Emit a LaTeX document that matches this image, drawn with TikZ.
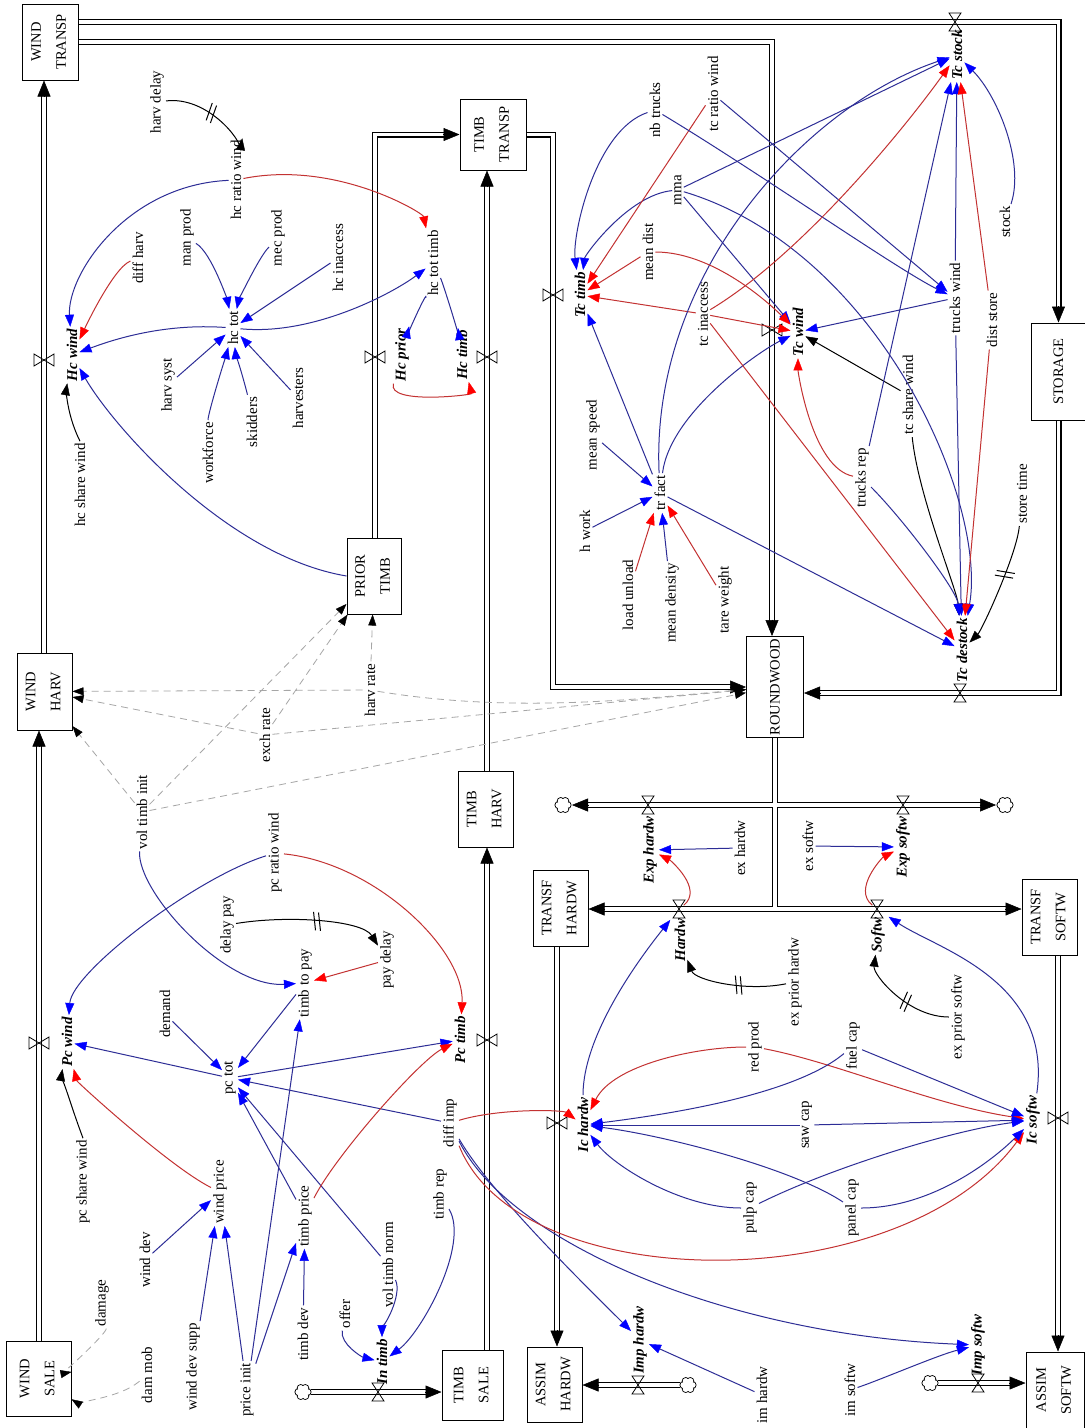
\documentclass[tikz,border=0pt]{standalone}
\usepackage{fontspec}
\setmainfont{Liberation Serif}
\usepackage{graphicx}
\usetikzlibrary{arrows.meta,calc,decorations.markings}
\definecolor{linkblue}{RGB}{45,45,150}
\definecolor{linkred}{RGB}{195,50,50}
\newcommand{\varfont}{\fontsize{15}{17}\selectfont}
\newcommand{\ratefont}{\fontsize{15}{17}\selectfont\bfseries\itshape}
\newcommand{\boxfont}{\fontsize{14.5}{17}\selectfont}
\newcommand{\stk}[2]{\rotatebox{90}{\begin{tabular}{@{}c@{}}#1\\[8pt]#2\end{tabular}}}
% arrow head of a pipe: #1 a point the pipe comes from, #2 the tip
\newcommand{\pipehead}[2]{\draw[line width=.5pt, -{Triangle[length=16pt,width=13pt]}] ($(#2)!16.5pt!(#1)$) -- (#2);}
\tikzset{
  var/.style={rotate=90, inner sep=2pt, font=\varfont},
  rate/.style={var, font=\ratefont},
  stockbox/.style={draw, line width=1pt, inner sep=0pt, font=\boxfont},
  headcol/.style={-{Triangle[color=#1,length=12pt,width=9pt,line width=.4pt]}},
  blink/.style={draw=linkblue, line width=1pt, headcol=blue},
  rlink/.style={draw=linkred, line width=1pt, headcol=red},
  klink/.style={draw=black, line width=1pt, headcol=black},
  dlink/.style={draw=gray!70, line width=.8pt, dash pattern=on 7pt off 5pt,
    -{Triangle[color=black,length=11pt,width=8pt,line width=.4pt]}},
  delaymark/.style={postaction={decorate, decoration={markings,
    mark=at position #1 with {\draw[black, solid, line width=1pt, -] (-5,-9) -- (-1,9) (0,-9) -- (4,9);}}}},
  pipe/.style={draw, line width=1.2pt, double=white, double distance=3.6pt, shorten >=12pt},
  pipetwo/.style={pipe, shorten <=12pt},
  pipeplain/.style={draw, line width=1.2pt, double=white, double distance=3.6pt},
  pipefill/.style={draw=white, line width=3.6pt},
  valvev/.pic={\draw[line width=.8pt] (-10,-6) -- (10,6) -- (10,-6) -- (-10,6) -- cycle;},
  valveh/.pic={\draw[line width=.8pt] (-6,-9) -- (6,9) -- (-6,9) -- (6,-9) -- cycle;},
  cloud/.pic={
    \foreach \a in {0,60,...,300} \draw[line width=.8pt, fill=white] (\a:4.5) circle (3.6);
    \foreach \a in {0,60,...,300} \fill[white] (\a:4.5) circle (2.8);
    \fill[white] (0,0) circle (5);}
}

\begin{document}
\begin{tikzpicture}[x=1pt, y=-1pt]
  \path[use as bounding box, fill=white] (0,0) rectangle (1085,1428);

  % --- stocks ---
  \node[stockbox, minimum width=56, minimum height=76] (windtransp) at (50,42) {\stk{WIND}{TRANSP}};
  \node[stockbox, minimum width=55, minimum height=77] (windharv) at (44.5,691.5) {\stk{WIND}{HARV}};
  \node[stockbox, minimum width=65, minimum height=75] (windsale) at (38.5,1378.5) {\stk{WIND}{SALE}};
  \node[stockbox, minimum width=54, minimum height=76] (priortimb) at (374,576) {\stk{PRIOR}{TIMB}};
  \node[stockbox, minimum width=66, minimum height=71] (timbtransp) at (493,134.5) {\stk{TIMB}{TRANSP}};
  \node[stockbox, minimum width=55, minimum height=76] (timbharv) at (485.5,809) {\stk{TIMB}{HARV}};
  \node[stockbox, minimum width=61, minimum height=70] (timbsale) at (472.5,1385) {\stk{TIMB}{SALE}};
  \node[stockbox, minimum width=55, minimum height=76] (transfhardw) at (560.5,908) {\stk{TRANSF}{HARDW}};
  \node[stockbox, minimum width=55, minimum height=75] (assimhardw) at (554.5,1384.5) {\stk{ASSIM}{HARDW}};
  \node[stockbox, minimum width=57, minimum height=101] (roundwood) at (775,687) {\rotatebox{90}{ROUNDWOOD}};
  \node[stockbox, minimum width=55, minimum height=97] (storage) at (1058.5,371.5) {\rotatebox{90}{STORAGE}};
  \node[stockbox, minimum width=55, minimum height=76] (transfsoftw) at (1049.5,917) {\stk{TRANSF}{SOFTW}};
  \node[stockbox, minimum width=58, minimum height=76] (assimsoftw) at (1055,1390) {\stk{ASSIM}{SOFTW}};

  % --- valves, junctions and clouds ---
  \coordinate (vHcwind) at (44,360);
  \coordinate (vHcprior) at (375,357);
  \coordinate (vHctimb) at (487,357);
  \coordinate (vTctimb) at (553,295);
  \coordinate (vTcwind) at (772,330);
  \coordinate (vTcstock) at (955,22);
  \coordinate (vTcdestock) at (960,693);
  \coordinate (vPcwind) at (39,1043);
  \coordinate (vPctimb) at (487,1040);
  \coordinate (vIntimb) at (378,1392);
  \coordinate (vExphardw) at (648,805);
  \coordinate (vExpsoftw) at (903,805);
  \coordinate (vHardw) at (679,909);
  \coordinate (vSoftw) at (877,909);
  \coordinate (vIchardw) at (557,1123);
  \coordinate (vIcsoftw) at (1058,1118);
  \coordinate (vImphardw) at (638,1385);
  \coordinate (vImpsoftw) at (978,1383);
  \coordinate (cTT) at (553,687);
  \coordinate (cJ) at (775,909);
  \coordinate (clIn) at (303,1392);
  \coordinate (clExph) at (563,805);
  \coordinate (clExps) at (1005,805);
  \coordinate (clImph) at (688,1385);
  \coordinate (clImps) at (930,1383);

  % --- flows ---
  \draw[pipe] (windharv.north -| vHcwind) -- (windtransp.south -| vHcwind);
  \pipehead{vHcwind}{windtransp.south -| vHcwind}
  \draw[pipe] (windsale.north -| vPcwind) -- (windharv.south -| vPcwind);
  \pipehead{vPcwind}{windharv.south -| vPcwind}
  \draw[pipe] (windtransp.east |- vTcstock) -| (storage.north);
  \pipehead{storage.north |- vTcstock}{storage.north}
  \draw[pipe] (windtransp.east) -| (roundwood.north -| vTcwind);
  \pipehead{vTcwind}{roundwood.north -| vTcwind}
  \draw[pipe] (storage.south) |- (roundwood.east |- vTcdestock);
  \pipehead{vTcdestock}{roundwood.east |- vTcdestock}
  \draw[pipe] (priortimb.north -| vHcprior) |- (timbtransp.west);
  \pipehead{vHcprior |- timbtransp.west}{timbtransp.west}
  \draw[pipe] (timbharv.north -| vHctimb) -- (timbtransp.south -| vHctimb);
  \pipehead{vHctimb}{timbtransp.south -| vHctimb}
  \draw[pipe] (timbtransp.east) -| (cTT) -- (roundwood.west |- cTT);
  \pipehead{cTT}{roundwood.west |- cTT}
  \draw[pipe] (timbsale.north -| vPctimb) -- (timbharv.south -| vPctimb);
  \pipehead{vPctimb}{timbharv.south -| vPctimb}
  \draw[pipe] ($(clIn)+(8,0)$) -- (timbsale.west |- clIn);
  \pipehead{vIntimb}{timbsale.west |- clIn}
  \draw[pipeplain] (roundwood.south -| cJ) -- (cJ);
  \draw[pipetwo] ($(clExph)+(9,0)$) -- ($(clExps)+(-9,0)$);
  \pipehead{vExphardw}{$(clExph)+(9,0)$}
  \pipehead{vExpsoftw}{$(clExps)+(-9,0)$}
  \draw[pipetwo] (transfhardw.east |- cJ) -- (transfsoftw.west |- cJ);
  \pipehead{vHardw}{transfhardw.east |- cJ}
  \pipehead{vSoftw}{transfsoftw.west |- cJ}
  \draw[pipefill] (roundwood.south -| cJ) -- (cJ);
  \draw[pipe] (transfhardw.south -| vIchardw) -- (assimhardw.north -| vIchardw);
  \pipehead{vIchardw}{assimhardw.north -| vIchardw}
  \draw[pipe] ($(clImph)+(-8,0)$) -- (assimhardw.east |- clImph);
  \pipehead{vImphardw}{assimhardw.east |- clImph}
  \draw[pipe] (transfsoftw.south -| vIcsoftw) -- (assimsoftw.north -| vIcsoftw);
  \pipehead{vIcsoftw}{assimsoftw.north -| vIcsoftw}
  \draw[pipe] ($(clImps)+(8,0)$) -- (assimsoftw.west |- clImps);
  \pipehead{vImpsoftw}{assimsoftw.west |- clImps}

  \foreach \v in {vHcwind,vHcprior,vHctimb,vTctimb,vTcwind,vPcwind,vPctimb,vIchardw,vIcsoftw}
    \pic at (\v) {valvev};
  \foreach \v in {vTcstock,vTcdestock,vIntimb,vExphardw,vExpsoftw,vHardw,vSoftw,vImphardw,vImpsoftw}
    \pic at (\v) {valveh};
  \foreach \c in {clIn,clExph,clExps,clImph,clImps}
    \pic at (\c) {cloud};

  % --- rates ---
  \node[rate] (Hcwind) at (72,355) {Hc wind};
  \node[rate] (Hcprior) at (402,355) {Hc prior};
  \node[rate] (Hctimb) at (462,355) {Hc timb};
  \node[rate] (Tctimb) at (580,295) {Tc timb};
  \node[rate] (Tcwind) at (798,332) {Tc wind};
  \node[rate] (Tcstock) at (957,55) {Tc stock};
  \node[rate] (Tcdestock) at (962,650) {Tc destock};
  \node[rate] (Pcwind) at (67,1042) {Pc wind};
  \node[rate] (Pctimb) at (460,1040) {Pc timb};
  \node[rate] (Intimb) at (382,1362) {In timb};
  \node[rate] (Exphardw) at (650,850) {Exp hardw};
  \node[rate] (Expsoftw) at (903,847) {Exp softw};
  \node[rate] (Hardw) at (680,940) {Hardw};
  \node[rate] (Softw) at (878,935) {Softw};
  \node[rate] (Ichardw) at (583,1125) {Ic hardw};
  \node[rate] (Icsoftw) at (1033,1120) {Ic softw};
  \node[rate] (Imphardw) at (640,1340) {Imp hardw};
  \node[rate] (Impsoftw) at (978,1345) {Imp softw};

  % --- auxiliaries: harvest ---
  \node[var] (harvdelay) at (157,102) {harv delay};
  \node[var] (hcratio) at (236,180) {hc ratio wind};
  \node[var] (diffharv) at (138,258) {diff harv};
  \node[var] (manprod) at (187,238) {man prod};
  \node[var] (mecprod) at (278,238) {mec prod};
  \node[var] (hcinacc) at (338,258) {hc inaccess};
  \node[var] (hctot) at (233,328) {hc tot};
  \node[var] (hctottimb) at (433,263) {hc tot timb};
  \node[var] (harvsyst) at (168,385) {harv syst};
  \node[var] (workforce) at (208,453) {workforce};
  \node[var] (skidders) at (252,422) {skidders};
  \node[var] (harvesters) at (298,398) {harvesters};
  \node[var] (hcshare) at (80,485) {hc share wind};
  \node[var] (harvrate) at (370,690) {harv rate};
  \node[var] (exchrate) at (265,735) {exch rate};
  \node[var] (voltimbinit) at (142,812) {vol timb init};

  % --- auxiliaries: purchase ---
  \node[var] (pcratio) at (275,853) {pc ratio wind};
  \node[var] (delaypay) at (227,925) {delay pay};
  \node[var] (timbtopay) at (305,983) {timb to pay};
  \node[var] (paydelay) at (387,960) {pay delay};
  \node[var] (demand) at (165,1014) {demand};
  \node[var] (pctot) at (230,1078) {pc tot};
  \node[var] (pcshare) at (83,1182) {pc share wind};
  \node[var] (windprice) at (220,1192) {wind price};
  \node[var] (timbprice) at (305,1216) {timb price};
  \node[var] (winddev) at (145,1260) {wind dev};
  \node[var] (damage) at (102,1303) {damage};
  \node[var] (timbdev) at (303,1334) {timb dev};
  \node[var] (offer) at (345,1314) {offer};
  \node[var] (dammob) at (147,1375) {dam mob};
  \node[var] (winddevsupp) at (193,1367) {wind dev supp};
  \node[var] (priceinit) at (247,1390) {price init};
  \node[var] (diffimp) at (450,1123) {diff imp};
  \node[var] (timbrep) at (440,1194) {timb rep};
  \node[var] (voltimbnorm) at (388,1265) {vol timb norm};

  % --- auxiliaries: industry ---
  \node[var] (sawcap) at (807,1125) {saw cap};
  \node[var] (pulpcap) at (750,1208) {pulp cap};
  \node[var] (panelcap) at (852,1208) {panel cap};
  \node[var] (imhardw) at (762,1395) {im hardw};
  \node[var] (imsoftw) at (850,1390) {im softw};
  \node[var] (exhardw) at (740,848) {ex hardw};
  \node[var] (exsoftw) at (808,846) {ex softw};
  \node[var] (exprhardw) at (795,982) {ex prior hardw};
  \node[var] (redprod) at (755,1047) {red prod};
  \node[var] (fuelcap) at (853,1046) {fuel cap};
  \node[var] (exprsoftw) at (958,1017) {ex prior softw};

  % --- auxiliaries: transport ---
  \node[var] (nbtrucks) at (655,110) {nb trucks};
  \node[var] (tcratio) at (713,94) {tc ratio wind};
  \node[var] (mma) at (678,190) {mma};
  \node[var] (meandist) at (648,252) {mean dist};
  \node[var] (tcinacc) at (703,314) {tc inaccess};
  \node[var] (stock) at (1005,222) {stock};
  \node[var] (truckswind) at (955,298) {trucks wind};
  \node[var] (diststore) at (992,320) {dist store};
  \node[var] (tcshare) at (908,395) {tc share wind};
  \node[var] (trucksrep) at (862,478) {trucks rep};
  \node[var] (storetime) at (1022,494) {store time};
  \node[var] (meanspeed) at (593,435) {mean speed};
  \node[var] (trfact) at (660,493) {tr fact};
  \node[var] (hwork) at (585,531) {h work};
  \node[var] (loadunload) at (628,595) {load unload};
  \node[var] (meandens) at (672,603) {mean density};
  \node[var] (tareweight) at (725,600) {tare weight};

  % --- links: harvest ---
  \draw[klink, delaymark=.55] (harvdelay) .. controls +(50,-6) and +(6,-40) .. (hcratio);
  \draw[blink] (hcratio) .. controls +(-110,5) and +(-5,-80) .. (Hcwind);
  \draw[rlink] (diffharv) .. controls +(-25,10) and +(12,-25) .. (Hcwind);
  \draw[blink] (hctot) .. controls +(-70,-5) and +(40,-15) .. (Hcwind);
  \draw[klink] (hcshare.east) .. controls +(-15,-30) and +(-5,30) .. (Hcwind);
  \draw[blink] (priortimb.west) .. controls +(-120,-20) and +(40,70) .. (Hcwind);
  \draw[blink] (manprod) .. controls +(25,15) and +(-5,-25) .. (hctot);
  \draw[blink] (mecprod) .. controls +(-20,20) and +(5,-25) .. (hctot);
  \foreach \s in {hcinacc,harvsyst,harvesters} \draw[blink] (\s) -- (hctot);
  \draw[blink] (workforce) .. controls +(0,-40) and +(-5,20) .. (hctot);
  \draw[blink] (skidders) .. controls +(-5,-30) and +(2,20) .. (hctot);
  \draw[blink] (hctot) .. controls +(80,8) and +(-40,30) .. (hctottimb);
  \draw[rlink] (hcratio) .. controls +(100,-20) and +(-10,-50) .. (hctottimb);
  \draw[blink] (hctottimb) .. controls +(-5,25) and +(5,-20) .. (Hcprior);
  \draw[blink] (hctottimb) .. controls +(10,20) and +(-3,-20) .. (Hctimb);
  \draw[rlink] (Hcprior) .. controls +(-15,50) and +(10,40) .. (Hctimb);

  % initial values (dashed)
  \foreach \s in {harvrate,exchrate,voltimbinit}{
    \draw[dlink] (\s) -- (windharv);
    \draw[dlink] (\s) -- (priortimb);
  }
  \draw[dlink] (harvrate) .. controls +(150,25) and +(-120,10) .. (roundwood);
  \draw[dlink] (exchrate) -- (roundwood);
  \draw[dlink] (voltimbinit) -- (roundwood);

  % --- links: purchase ---
  \draw[blink] (voltimbinit) .. controls +(-5,80) and +(-80,5) .. (timbtopay);
  \draw[blink] (pcratio) .. controls +(-80,25) and +(5,-70) .. (Pcwind);
  \draw[rlink] (pcratio) .. controls +(100,10) and +(5,-90) .. (Pctimb);
  \draw[klink, delaymark=.55] (delaypay) .. controls +(60,-10) and +(-25,-40) .. (paydelay);
  \draw[rlink] (paydelay) -- (timbtopay);
  \foreach \s in {timbtopay,demand,timbprice,voltimbnorm,diffimp} \draw[blink] (\s) -- (pctot);
  \draw[blink] (pctot) -- (Pcwind);
  \draw[blink] (pctot) -- (Pctimb);
  \draw[blink] (priceinit) -- (timbtopay);
  \draw[rlink] (windprice) .. controls +(-50,-25) and +(10,40) .. (Pcwind);
  \draw[klink] (pcshare.east) .. controls +(-15,-40) and +(-5,30) .. (Pcwind);
  \draw[rlink] (timbprice) .. controls +(30,-60) and +(-40,20) .. (Pctimb);
  \foreach \s in {winddev,winddevsupp,priceinit} \draw[blink] (\s) -- (windprice);
  \foreach \s in {priceinit,timbdev} \draw[blink] (\s) -- (timbprice);
  \draw[blink] (offer) .. controls +(-5,30) and +(-20,-5) .. (Intimb);
  \draw[blink] (voltimbnorm) .. controls +(15,30) and +(0,-30) .. (Intimb);
  \draw[blink] (timbrep) .. controls +(30,50) and +(40,-30) .. (Intimb);
  \draw[dlink] (damage) .. controls +(5,30) and +(25,-5) .. (windsale);
  \draw[dlink] (dammob) .. controls +(-30,25) and +(35,22) .. (windsale);

  % --- links: imports ---
  \draw[rlink] (diffimp) .. controls +(50,-15) and +(-20,-15) .. (Ichardw);
  \draw[blink] (diffimp) .. controls +(40,70) and +(-50,-50) .. (Imphardw);
  \draw[blink] (diffimp) .. controls +(60,120) and +(-250,-10) .. (Impsoftw);
  \draw[rlink] (diffimp) .. controls +(70,175) and +(-133,180) .. (Icsoftw);

  % --- links: industry ---
  \draw[blink] (exhardw) -- (Exphardw);
  \draw[rlink, shorten <=6pt] (vHardw) .. controls +(25,-20) and +(20,10) .. (Exphardw);
  \draw[rlink, shorten <=6pt] (vSoftw) .. controls +(-25,-20) and +(-20,10) .. (Expsoftw);
  \draw[blink] (exsoftw) -- (Expsoftw);
  \draw[klink, delaymark=.45] (exprhardw) .. controls +(-50,10) and +(15,40) .. (Hardw);
  \draw[klink, delaymark=.45] (exprsoftw) .. controls +(-50,0) and +(-5,40) .. (Softw);
  \draw[blink, shorten >=14pt] (Ichardw) .. controls +(0,-90) and +(-40,50) .. (vHardw);
  \draw[blink, shorten >=14pt] (Icsoftw) .. controls +(20,-140) and +(60,40) .. (vSoftw);
  \draw[rlink] (redprod) .. controls +(-60,0) and +(30,-60) .. (Ichardw);
  \draw[rlink] (redprod) .. controls +(80,15) and +(-100,-15) .. (Icsoftw);
  \draw[blink] (fuelcap) .. controls +(-60,50) and +(80,-10) .. (Ichardw);
  \draw[blink] (sawcap) -- (Ichardw);
  \draw[blink] (panelcap) .. controls +(-60,-40) and +(80,10) .. (Ichardw);
  \draw[blink] (pulpcap) .. controls +(-70,0) and +(30,40) .. (Ichardw);
  \draw[blink] (fuelcap) -- (Icsoftw);
  \draw[blink] (sawcap) -- (Icsoftw);
  \draw[blink] (pulpcap) .. controls +(80,-40) and +(-80,10) .. (Icsoftw);
  \draw[blink] (panelcap) .. controls +(80,0) and +(-40,40) .. (Icsoftw);
  \draw[blink] (imhardw) -- (Imphardw);
  \draw[blink] (imsoftw) .. controls +(30,-10) and +(-40,10) .. (Impsoftw);

  % --- links: transport ---
  \foreach \s in {meanspeed,hwork,meandens} \draw[blink] (\s) -- (trfact);
  \foreach \s in {loadunload,tareweight} \draw[rlink] (\s) -- (trfact);
  \draw[blink] (nbtrucks) .. controls +(-60,20) and +(-8,-60) .. (Tctimb);
  \draw[blink] (mma) .. controls +(-50,5) and +(5,-40) .. (Tctimb);
  \foreach \s in {tcratio,meandist,tcinacc} \draw[rlink] (\s) -- (Tctimb);
  \draw[blink] (trfact) -- (Tctimb);
  \draw[blink] (trfact) .. controls +(-10,-220) and +(-150,50) .. (Tcstock);
  \draw[blink] (trfact) .. controls +(10,-80) and +(-40,20) .. (Tcwind);
  \draw[blink] (trfact) -- (Tcdestock);
  \draw[blink] (mma) -- (Tcstock);
  \draw[blink] (mma) -- (Tcwind);
  \draw[blink] (mma) .. controls +(200,60) and +(25,-150) .. (Tcdestock);
  \draw[blink] (tcratio) -- (truckswind);
  \draw[blink] (nbtrucks) .. controls +(100,60) and +(-60,-30) .. (truckswind);
  \draw[rlink] (tcinacc) .. controls +(100,-60) and +(-50,70) .. (Tcstock);
  \draw[rlink] (tcinacc) -- (Tcwind);
  \draw[rlink] (tcinacc) -- (Tcdestock);
  \draw[rlink] (meandist) .. controls +(70,0) and +(-20,-20) .. (Tcwind);
  \foreach \t in {Tcwind,Tcstock,Tcdestock} \draw[blink] (truckswind) -- (\t);
  \foreach \t in {Tcstock,Tcdestock} \draw[rlink] (diststore) -- (\t);
  \draw[blink] (stock) .. controls +(20,-60) and +(40,40) .. (Tcstock);
  \draw[klink] (tcshare) -- (Tcwind);
  \draw[klink] (tcshare) .. controls +(10,100) and +(-5,-60) .. (Tcdestock);
  \draw[rlink] (trucksrep) .. controls +(-50,-10) and +(0,40) .. (Tcwind);
  \draw[blink] (trucksrep) -- (Tcstock);
  \draw[blink] (trucksrep) .. controls +(40,40) and +(-5,-60) .. (Tcdestock);
  \draw[klink, delaymark=.4] (storetime) .. controls +(-5,60) and +(20,-20) .. (Tcdestock);
\end{tikzpicture}
\end{document}
